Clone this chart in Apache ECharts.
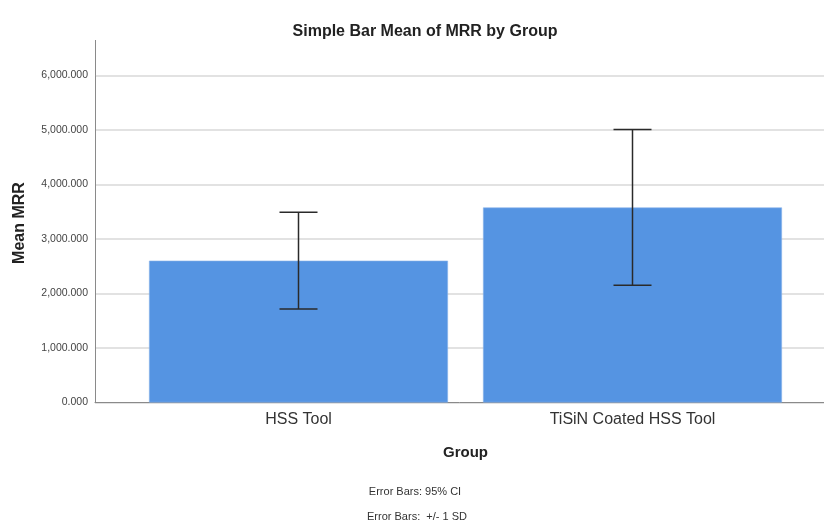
<!DOCTYPE html>
<html><head><meta charset="utf-8">
<script src="https://cdn.jsdelivr.net/npm/echarts@6/dist/echarts.min.js"></script>
<style>html,body{margin:0;padding:0;background:#fff}#c{width:824px;height:520px}</style>
</head><body><div id="c"></div>
<script>
const categories = ['HSS Tool', 'TiSiN Coated HSS Tool'];
const means = [2602, 3578];
const errLow = [1716, 2150];
const errHigh = [3490, 5010];
const yTicks = [0, 1000, 2000, 3000, 4000, 5000, 6000];

const FONT = '"Liberation Sans", Arial, sans-serif';
const fmt = v => v.toLocaleString('en-US', {minimumFractionDigits: 3, maximumFractionDigits: 3});

const chart = echarts.init(document.getElementById('c'), null, {renderer: 'canvas'});
chart.setOption({
  backgroundColor: '#fff',
  animation: false,
  title: [
    {text: 'Simple Bar Mean of MRR by Group', left: 420, top: 19, textAlign: 'center',
     textStyle: {fontFamily: FONT, fontSize: 16, fontWeight: 'bold', color: '#222'}},
    {text: 'Error Bars: 95% CI', left: 410, top: 481, textAlign: 'center',
     textStyle: {fontFamily: FONT, fontSize: 11, fontWeight: 'normal', color: '#333'}},
    {text: 'Error Bars:  +/- 1 SD', left: 412, top: 506, textAlign: 'center',
     textStyle: {fontFamily: FONT, fontSize: 11, fontWeight: 'normal', color: '#333'}}
  ],
  graphic: [
    {type: 'line', shape: {x1: 95.5, y1: 40, x2: 95.5, y2: 76}, style: {stroke: '#8a8a8a', lineWidth: 1}, silent: true},
    {type: 'text', x: 20, y: 223, rotation: Math.PI / 2, silent: true,
     style: {text: 'Mean MRR', fontFamily: FONT, fontSize: 16, fontWeight: 'bold', fill: '#222',
             align: 'center', verticalAlign: 'middle'}}
  ],
  grid: [
    {left: 95, right: 0, top: 75.5, bottom: 117.5},
    {left: 131.5, right: 24.5, top: 75.5, bottom: 117.5}
  ],
  xAxis: [
    {gridIndex: 0, type: 'category', data: [''], axisLine: {lineStyle: {color: '#8a8a8a', width: 1}},
     axisTick: {show: false}, axisLabel: {show: false}},
    {gridIndex: 1, type: 'category', data: categories, axisLine: {show: false}, axisTick: {show: false},
     axisLabel: {fontFamily: FONT, fontSize: 16, color: '#333', margin: 9},
     name: 'Group', nameLocation: 'middle', nameGap: 43,
     nameTextStyle: {fontFamily: FONT, fontSize: 15, fontWeight: 'bold', color: '#222'}}
  ],
  yAxis: [
    {gridIndex: 0, type: 'value', min: yTicks[0], max: yTicks[yTicks.length - 1], interval: 1000,
     axisLine: {show: true, lineStyle: {color: '#8a8a8a', width: 1}},
     axisTick: {show: false},
     axisLabel: {fontFamily: FONT, fontSize: 10.5, color: '#444', margin: 7, formatter: v => fmt(v)},
     splitLine: {show: true, lineStyle: {color: '#d9d9d9', width: 1.5}}},
    {gridIndex: 1, type: 'value', min: yTicks[0], max: yTicks[yTicks.length - 1], interval: 1000,
     axisLine: {show: false}, axisTick: {show: false}, axisLabel: {show: false}, splitLine: {show: false}}
  ],
  series: [
    {type: 'bar', xAxisIndex: 1, yAxisIndex: 1, data: means, barCategoryGap: '10.5%',
     itemStyle: {color: '#5594E2', borderColor: '#86b2ea', borderWidth: 0.6}},
    {type: 'custom', xAxisIndex: 1, yAxisIndex: 1,
     data: categories.map((c, i) => [i, errLow[i], errHigh[i]]),
     renderItem: (params, api) => {
       const x = api.value(0);
       const lo = api.coord([x, api.value(1)]);
       const hi = api.coord([x, api.value(2)]);
       const hw = 19;
       const st = {stroke: '#2a2a2a', lineWidth: 1.5};
       return {type: 'group', children: [
         {type: 'line', shape: {x1: lo[0], y1: lo[1], x2: hi[0], y2: hi[1]}, style: st},
         {type: 'line', shape: {x1: lo[0] - hw, y1: lo[1], x2: lo[0] + hw, y2: lo[1]}, style: st},
         {type: 'line', shape: {x1: hi[0] - hw, y1: hi[1], x2: hi[0] + hw, y2: hi[1]}, style: st}
       ]};
     }, z: 10}
  ]
});
</script></body></html>
